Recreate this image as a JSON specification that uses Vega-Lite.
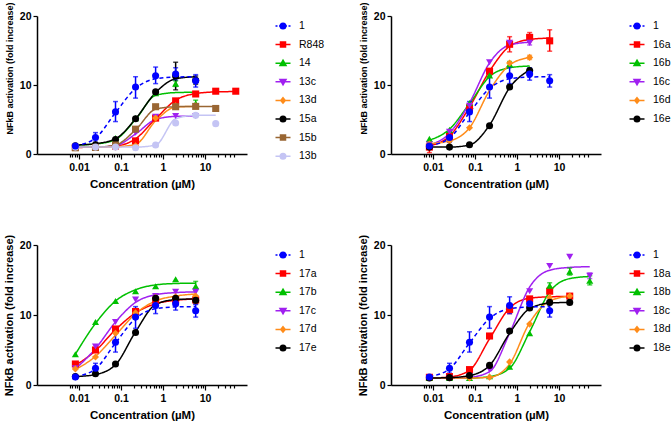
{
  "$schema": "https://vega.github.io/schema/vega-lite/v6.json",
  "padding": {"left": 3, "top": 0, "right": 0, "bottom": 0},
  "spacing": 42,
  "resolve": {"scale": {"color": "independent", "strokeDash": "independent", "shape": "independent", "fill": "independent", "stroke": "independent", "x": "independent", "y": "independent"}},
  "config": {
    "view": {"stroke": null},
    "axis": {"grid": false, "domainColor": "black", "domainWidth": 1.5, "tickColor": "black", "tickWidth": 1.2,
      "labelFont": "Liberation Sans", "labelFontWeight": "bold", "labelFontSize": 10.5, "labelColor": "black",
      "titleFont": "Liberation Sans", "titleFontWeight": "bold", "titleFontSize": 11.5, "titleColor": "black"},
    "legend": {"labelFont": "Liberation Sans", "labelFontSize": 10.5, "labelColor": "black", "symbolSize": 100,
      "symbolStrokeWidth": 1.5, "rowPadding": 6.6, "labelOffset": 10, "offset": 26, "padding": 4, "symbolOpacity": 1}
  },
  "datasets": {
    "p1": [
      {"s":"R848","x":0.0082,"y":0.95,"f":0.95},{"s":"R848","x":0.0247,"y":1.0,"f":1.0},{"s":"R848","x":0.074,"y":1.15,"f":1.15},{"s":"R848","x":0.222,"y":1.9,"f":2.2},{"s":"R848","x":0.667,"y":5.2,"f":5.1},{"s":"R848","x":2,"y":7.7,"f":7.8},{"s":"R848","x":6,"y":8.7,"f":8.75},{"s":"R848","x":18,"y":9.1,"f":9.0},{"s":"R848","x":54,"y":9.1,"f":9.05},
      {"s":"14","x":0.0082,"y":1.2,"f":1.3},{"s":"14","x":0.0247,"y":1.4,"f":1.45},{"s":"14","x":0.074,"y":2.3,"f":2.1},{"s":"14","x":0.222,"y":5.2,"f":5.0},{"s":"14","x":0.667,"y":8.8,"f":8.5},{"s":"14","x":2,"y":10.2,"f":8.9},{"s":"14","x":6,"y":7.3,"f":8.95},
      {"s":"13c","x":0.0082,"y":1.0,"f":1.0},{"s":"13c","x":0.0247,"y":1.05,"f":1.0},{"s":"13c","x":0.074,"y":1.2,"f":1.2},{"s":"13c","x":0.222,"y":3.1,"f":2.9},{"s":"13c","x":0.667,"y":5.4,"f":5.0},{"s":"13c","x":2,"y":5.5,"f":5.45},{"s":"13c","x":6,"y":5.5,"f":5.5},
      {"s":"13d","x":0.0082,"y":0.95,"f":1.0},{"s":"13d","x":0.0247,"y":0.95,"f":1.0},{"s":"13d","x":0.074,"y":1.0,"f":1.05},{"s":"13d","x":0.222,"y":1.2,"f":1.4},{"s":"13d","x":0.667,"y":5.2,"f":4.8},{"s":"13d","x":2,"y":7.0,"f":6.8},{"s":"13d","x":6,"y":7.0,"f":6.9},
      {"s":"15a","x":0.0082,"y":1.2,"f":1.3},{"s":"15a","x":0.0247,"y":1.35,"f":1.5},{"s":"15a","x":0.074,"y":2.1,"f":2.2},{"s":"15a","x":0.222,"y":5.1,"f":5.1},{"s":"15a","x":0.667,"y":9.0,"f":8.9},{"s":"15a","x":2,"y":11.3,"f":10.9},{"s":"15a","x":6,"y":10.7,"f":11.2},
      {"s":"15b","x":0.0082,"y":0.9,"f":1.0},{"s":"15b","x":0.0247,"y":0.95,"f":1.0},{"s":"15b","x":0.074,"y":1.3,"f":1.3},{"s":"15b","x":0.222,"y":3.6,"f":3.5},{"s":"15b","x":0.667,"y":6.85,"f":6.5},{"s":"15b","x":2,"y":6.85,"f":6.85},{"s":"15b","x":6,"y":6.9,"f":6.9},{"s":"15b","x":18,"y":6.6,"f":6.9},
      {"s":"13b","x":0.0082,"y":1.0,"f":1.0},{"s":"13b","x":0.0247,"y":1.0,"f":1.0},{"s":"13b","x":0.074,"y":1.0,"f":1.0},{"s":"13b","x":0.222,"y":0.9,"f":1.0},{"s":"13b","x":0.667,"y":1.3,"f":1.3},{"s":"13b","x":2,"y":4.5,"f":5.1},{"s":"13b","x":6,"y":5.6,"f":5.6},{"s":"13b","x":18,"y":4.4,"f":5.6},
      {"s":"1","x":0.0082,"y":1.15,"f":1.2},{"s":"1","x":0.0247,"y":2.4,"f":2.3},{"s":"1","x":0.074,"y":6.1,"f":6.0},{"s":"1","x":0.222,"y":9.7,"f":9.5},{"s":"1","x":0.667,"y":11.35,"f":10.9},{"s":"1","x":2,"y":11.6,"f":11.15},{"s":"1","x":6,"y":10.6,"f":11.2}
    ],
    "e1": [
      {"s":"14","x":2,"lo":9.8,"hi":10.6},{"s":"14","x":6,"lo":6.8,"hi":7.8},{"s":"15a","x":2,"lo":9.3,"hi":13.3},{"s":"15a","x":6,"lo":10.1,"hi":11.3},
      {"s":"1","x":0.0082,"lo":0.9,"hi":1.4},{"s":"1","x":0.0247,"lo":1.7,"hi":3.1},{"s":"1","x":0.074,"lo":4.7,"hi":7.6},{"s":"1","x":0.222,"lo":8.1,"hi":11.2},{"s":"1","x":0.667,"lo":10.2,"hi":12.6},{"s":"1","x":2,"lo":10.7,"hi":12.5},{"s":"1","x":6,"lo":9.7,"hi":11.5}
    ],
    "p2": [
      {"s":"16a","x":0.0082,"y":1.0,"f":1.2},{"s":"16a","x":0.0247,"y":2.6,"f":2.6},{"s":"16a","x":0.074,"y":6.7,"f":6.8},{"s":"16a","x":0.222,"y":12.0,"f":12.0},{"s":"16a","x":0.667,"y":15.9,"f":15.6},{"s":"16a","x":2,"y":16.9,"f":16.6},{"s":"16a","x":6,"y":16.4,"f":16.8},
      {"s":"16b","x":0.0082,"y":2.2,"f":2.0},{"s":"16b","x":0.0247,"y":3.5,"f":3.6},{"s":"16b","x":0.074,"y":7.4,"f":7.3},{"s":"16b","x":0.222,"y":11.4,"f":11.2},{"s":"16b","x":0.667,"y":13.0,"f":12.5},{"s":"16b","x":2,"y":12.3,"f":12.75},
      {"s":"16c","x":0.0082,"y":1.35,"f":1.3},{"s":"16c","x":0.0247,"y":3.2,"f":3.0},{"s":"16c","x":0.074,"y":7.0,"f":7.4},{"s":"16c","x":0.222,"y":13.3,"f":13.2},{"s":"16c","x":0.667,"y":16.1,"f":15.8},{"s":"16c","x":2,"y":16.1,"f":16.2},
      {"s":"16d","x":0.0082,"y":1.45,"f":1.5},{"s":"16d","x":0.0247,"y":1.9,"f":1.9},{"s":"16d","x":0.074,"y":3.8,"f":3.8},{"s":"16d","x":0.222,"y":9.6,"f":9.2},{"s":"16d","x":0.667,"y":13.2,"f":12.9},{"s":"16d","x":2,"y":14.0,"f":14.0},
      {"s":"16e","x":0.0082,"y":1.0,"f":1.0},{"s":"16e","x":0.0247,"y":1.0,"f":1.0},{"s":"16e","x":0.074,"y":1.35,"f":1.3},{"s":"16e","x":0.222,"y":4.1,"f":4.2},{"s":"16e","x":0.667,"y":9.7,"f":9.6},{"s":"16e","x":2,"y":12.1,"f":12.2},
      {"s":"1","x":0.0082,"y":1.15,"f":1.2},{"s":"1","x":0.0247,"y":2.4,"f":2.3},{"s":"1","x":0.074,"y":6.1,"f":6.0},{"s":"1","x":0.222,"y":9.7,"f":9.5},{"s":"1","x":0.667,"y":11.35,"f":10.9},{"s":"1","x":2,"y":11.6,"f":11.15},{"s":"1","x":6,"y":10.6,"f":11.2}
    ],
    "e2": [
      {"s":"16a","x":0.0082,"lo":0.2,"hi":1.8},{"s":"16a","x":0.667,"lo":14.8,"hi":17.0},{"s":"16a","x":2,"lo":16.3,"hi":17.6},{"s":"16a","x":6,"lo":14.9,"hi":18.0},
      {"s":"16b","x":0.667,"lo":12.6,"hi":13.4},{"s":"16c","x":2,"lo":15.8,"hi":16.5},{"s":"16d","x":2,"lo":13.7,"hi":14.3},
      {"s":"1","x":0.0082,"lo":0.9,"hi":1.4},{"s":"1","x":0.0247,"lo":1.7,"hi":3.1},{"s":"1","x":0.074,"lo":4.7,"hi":7.6},{"s":"1","x":0.222,"lo":8.1,"hi":11.2},{"s":"1","x":0.667,"lo":10.2,"hi":12.6},{"s":"1","x":2,"lo":10.7,"hi":12.5},{"s":"1","x":6,"lo":9.7,"hi":11.5}
    ],
    "p3": [
      {"s":"17a","x":0.0082,"y":3.0,"f":2.8},{"s":"17a","x":0.0247,"y":5.0,"f":4.9},{"s":"17a","x":0.074,"y":8.0,"f":7.9},{"s":"17a","x":0.222,"y":10.5,"f":10.3},{"s":"17a","x":0.667,"y":12.1,"f":11.6},{"s":"17a","x":2,"y":12.2,"f":12.1},{"s":"17a","x":6,"y":12.15,"f":12.3},
      {"s":"17b","x":0.0082,"y":4.4,"f":4.4},{"s":"17b","x":0.0247,"y":9.0,"f":8.8},{"s":"17b","x":0.074,"y":12.0,"f":12.0},{"s":"17b","x":0.222,"y":13.4,"f":13.6},{"s":"17b","x":0.667,"y":14.1,"f":14.3},{"s":"17b","x":2,"y":15.1,"f":14.5},{"s":"17b","x":6,"y":14.1,"f":14.55},
      {"s":"17c","x":0.0082,"y":2.4,"f":2.3},{"s":"17c","x":0.0247,"y":5.5,"f":5.2},{"s":"17c","x":0.074,"y":9.0,"f":9.0},{"s":"17c","x":0.222,"y":12.2,"f":11.8},{"s":"17c","x":0.667,"y":12.7,"f":12.9},{"s":"17c","x":2,"y":13.3,"f":13.2},{"s":"17c","x":6,"y":13.3,"f":13.3},
      {"s":"17d","x":0.0082,"y":2.3,"f":2.2},{"s":"17d","x":0.0247,"y":4.0,"f":4.1},{"s":"17d","x":0.074,"y":7.4,"f":7.1},{"s":"17d","x":0.222,"y":10.3,"f":10.2},{"s":"17d","x":0.667,"y":12.5,"f":12.0},{"s":"17d","x":2,"y":12.6,"f":12.7},{"s":"17d","x":6,"y":12.7,"f":13.0},
      {"s":"17e","x":0.0082,"y":1.2,"f":1.2},{"s":"17e","x":0.0247,"y":1.6,"f":1.5},{"s":"17e","x":0.074,"y":3.0,"f":2.9},{"s":"17e","x":0.222,"y":7.5,"f":7.6},{"s":"17e","x":0.667,"y":12.4,"f":11.5},{"s":"17e","x":2,"y":12.4,"f":12.2},{"s":"17e","x":6,"y":12.1,"f":12.3},
      {"s":"1","x":0.0082,"y":1.15,"f":1.2},{"s":"1","x":0.0247,"y":2.4,"f":2.3},{"s":"1","x":0.074,"y":6.1,"f":6.0},{"s":"1","x":0.222,"y":9.7,"f":9.5},{"s":"1","x":0.667,"y":11.35,"f":10.9},{"s":"1","x":2,"y":11.6,"f":11.15},{"s":"1","x":6,"y":10.6,"f":11.2}
    ],
    "e3": [
      {"s":"17b","x":6,"lo":13.5,"hi":14.8},{"s":"17e","x":6,"lo":11.6,"hi":12.6},
      {"s":"1","x":0.0082,"lo":0.9,"hi":1.4},{"s":"1","x":0.0247,"lo":1.7,"hi":3.1},{"s":"1","x":0.074,"lo":4.7,"hi":7.6},{"s":"1","x":0.222,"lo":8.1,"hi":11.2},{"s":"1","x":0.667,"lo":10.2,"hi":12.6},{"s":"1","x":2,"lo":10.7,"hi":12.5},{"s":"1","x":6,"lo":9.7,"hi":11.5}
    ],
    "p4": [
      {"s":"18a","x":0.0082,"y":1.1,"f":1.0},{"s":"18a","x":0.0247,"y":1.2,"f":1.15},{"s":"18a","x":0.074,"y":2.2,"f":2.1},{"s":"18a","x":0.222,"y":7.0,"f":6.6},{"s":"18a","x":0.667,"y":10.8,"f":11.0},{"s":"18a","x":2,"y":12.3,"f":12.4},{"s":"18a","x":6,"y":13.4,"f":12.6},{"s":"18a","x":18,"y":12.7,"f":12.65},
      {"s":"18b","x":0.0082,"y":1.0,"f":1.0},{"s":"18b","x":0.0247,"y":1.0,"f":1.0},{"s":"18b","x":0.074,"y":1.0,"f":1.0},{"s":"18b","x":0.222,"y":1.25,"f":1.2},{"s":"18b","x":0.667,"y":2.6,"f":2.4},{"s":"18b","x":2,"y":7.4,"f":7.6},{"s":"18b","x":6,"y":14.2,"f":13.3},{"s":"18b","x":18,"y":16.2,"f":15.2},{"s":"18b","x":54,"y":14.9,"f":15.5},
      {"s":"18c","x":0.0082,"y":1.0,"f":1.0},{"s":"18c","x":0.0247,"y":1.0,"f":1.0},{"s":"18c","x":0.074,"y":1.2,"f":1.1},{"s":"18c","x":0.222,"y":2.2,"f":1.9},{"s":"18c","x":0.667,"y":7.6,"f":7.4},{"s":"18c","x":2,"y":13.4,"f":14.0},{"s":"18c","x":6,"y":17.0,"f":16.4},{"s":"18c","x":18,"y":18.3,"f":16.8},{"s":"18c","x":54,"y":15.6,"f":16.9},
      {"s":"18d","x":0.0082,"y":1.0,"f":1.0},{"s":"18d","x":0.0247,"y":1.0,"f":1.0},{"s":"18d","x":0.074,"y":1.0,"f":1.0},{"s":"18d","x":0.222,"y":1.1,"f":1.1},{"s":"18d","x":0.667,"y":3.3,"f":3.0},{"s":"18d","x":2,"y":8.7,"f":8.9},{"s":"18d","x":6,"y":12.5,"f":12.0},{"s":"18d","x":18,"y":12.7,"f":12.7},
      {"s":"18e","x":0.0082,"y":1.0,"f":1.0},{"s":"18e","x":0.0247,"y":1.05,"f":1.05},{"s":"18e","x":0.074,"y":1.35,"f":1.35},{"s":"18e","x":0.222,"y":2.8,"f":2.8},{"s":"18e","x":0.667,"y":7.7,"f":7.4},{"s":"18e","x":2,"y":11.0,"f":10.9},{"s":"18e","x":6,"y":11.8,"f":11.7},{"s":"18e","x":18,"y":11.8,"f":11.8},
      {"s":"1","x":0.0082,"y":1.15,"f":1.2},{"s":"1","x":0.0247,"y":2.4,"f":2.3},{"s":"1","x":0.074,"y":6.1,"f":6.0},{"s":"1","x":0.222,"y":9.7,"f":9.5},{"s":"1","x":0.667,"y":11.35,"f":10.9},{"s":"1","x":2,"y":11.6,"f":11.15},{"s":"1","x":6,"y":10.6,"f":11.2}
    ],
    "e4": [
      {"s":"18a","x":0.667,"lo":10.2,"hi":11.4},{"s":"18b","x":6,"lo":13.7,"hi":14.6},{"s":"18b","x":18,"lo":15.7,"hi":16.7},{"s":"18b","x":54,"lo":14.3,"hi":15.6},{"s":"18c","x":54,"lo":15.2,"hi":16.0},
      {"s":"1","x":0.0082,"lo":0.9,"hi":1.4},{"s":"1","x":0.0247,"lo":1.7,"hi":3.1},{"s":"1","x":0.074,"lo":4.7,"hi":7.6},{"s":"1","x":0.222,"lo":8.1,"hi":11.2},{"s":"1","x":0.667,"lo":10.2,"hi":12.6},{"s":"1","x":2,"lo":10.7,"hi":12.5},{"s":"1","x":6,"lo":9.7,"hi":11.5}
    ]
  },
  "vconcat": [
    {"hconcat": [
      {"width": 210, "height": 138,
       "resolve": {"scale": {"shape": "independent", "fill": "independent", "stroke": "independent"}},
       "layer": [
        {"data": {"name": "p1"}, "mark": {"type": "line", "strokeWidth": 1.5, "interpolate": "monotone"},
         "encoding": {
          "x": {"field": "x", "type": "quantitative", "scale": {"type": "log", "domain": [0.0055, 60]},
                "axis": {"title": "Concentration (µM)", "values": [0.006,0.007,0.008,0.009,0.01,0.02,0.03,0.04,0.05,0.06,0.07,0.08,0.09,0.1,0.2,0.3,0.4,0.5,0.6,0.7,0.8,0.9,1,2,3,4,5,6,7,8,9,10,20,30,40,50],
                         "labelExpr": "(datum.value==0.01||datum.value==0.1||datum.value==1||datum.value==10) ? datum.label : ''", "format": "~g",
                         "tickSize": {"condition": {"test": "datum.value==0.01||datum.value==0.1||datum.value==1||datum.value==10", "value": 5}, "value": 3}, "labelPadding": 3, "titlePadding": 6}},
          "y": {"field": "f", "type": "quantitative", "scale": {"domain": [0, 20]}, "title": "NFkB activation  (fold increase)",
                "axis": {"values": [0,5,10,15,20], "tickSize": 4, "titleFontSize": 9, "titlePadding": 5, "titleY": 52}},
          "color": {"field": "s", "type": "nominal", "legend": null, "scale": {"domain": ["1","R848","14","13c","13d","15a","15b","13b"], "range": ["#0000ff","#ff0000","#00c000","#a020f0","#ff8c1a","#000000","#996633","#c4c4f4"]}},
          "strokeDash": {"field": "s", "type": "nominal", "legend": null, "scale": {"domain": ["1","R848","14","13c","13d","15a","15b","13b"], "range": [[4,3],[1,0],[1,0],[1,0],[1,0],[1,0],[1,0],[1,0]]}}
         }},
        {"data": {"name": "e1"}, "mark": {"type": "errorbar", "ticks": true, "thickness": 1.5},
         "encoding": {"x": {"field": "x", "type": "quantitative"}, "y": {"field": "lo", "type": "quantitative", "title": "NFkB activation  (fold increase)"}, "y2": {"field": "hi"},
          "color": {"field": "s", "type": "nominal", "legend": null}}},
        {"data": {"name": "p1"}, "mark": {"type": "point", "filled": true, "size": 50, "opacity": 1},
         "encoding": {"x": {"field": "x", "type": "quantitative"}, "y": {"field": "y", "type": "quantitative", "title": "NFkB activation  (fold increase)"},
          "color": {"field": "s", "type": "nominal", "legend": null},
          "shape": {"field": "s", "type": "nominal", "legend": null, "scale": {"domain": ["1","R848","14","13c","13d","15a","15b","13b"], "range": ["circle","square","triangle-up","triangle-down","diamond","circle","square","circle"]}}}},
        {"data": {"name": "p1"}, "mark": {"type": "point", "filled": true, "size": 100, "opacity": 0},
         "encoding": {"x": {"field": "x", "type": "quantitative"}, "y": {"field": "y", "type": "quantitative", "title": "NFkB activation  (fold increase)"},
          "fill": {"field": "s", "type": "nominal", "legend": {"title": null}, "scale": {"domain": ["1","R848","14","13c","13d","15a","15b","13b"], "range": ["#0000ff","#ff0000","#00c000","#a020f0","#ff8c1a","#000000","#996633","#c4c4f4"]}},
          "stroke": {"field": "s", "type": "nominal", "legend": {"title": null}, "scale": {"domain": ["1","R848","14","13c","13d","15a","15b","13b"], "range": ["#0000ff","#ff0000","#00c000","#a020f0","#ff8c1a","#000000","#996633","#c4c4f4"]}},
          "shape": {"field": "s", "type": "nominal", "legend": {"title": null}, "scale": {"domain": ["1","R848","14","13c","13d","15a","15b","13b"], "range": [
            "M-1.5,0H-1.1M-0.8,0H-0.55M0.55,0H0.8M1.1,0H1.5M0.55,0A0.55,0.55,0,1,1,-0.55,0A0.55,0.55,0,1,1,0.55,0Z",
            "M-1.5,0H1.5M-0.5,-0.5H0.5V0.5H-0.5Z",
            "M-1.5,0H1.5M0,-0.6L0.6,0.45H-0.6Z",
            "M-1.5,0H1.5M0,0.6L0.6,-0.45H-0.6Z",
            "M-1.5,0H1.5M0,-0.55L0.45,0L0,0.55L-0.45,0Z",
            "M-1.5,0H1.5M0.55,0A0.55,0.55,0,1,1,-0.55,0A0.55,0.55,0,1,1,0.55,0Z",
            "M-1.5,0H1.5M-0.5,-0.5H0.5V0.5H-0.5Z",
            "M-1.5,0H1.5M0.55,0A0.55,0.55,0,1,1,-0.55,0A0.55,0.55,0,1,1,0.55,0Z"]}}}}
       ]},
      {"width": 210, "height": 138,
       "resolve": {"scale": {"shape": "independent", "fill": "independent", "stroke": "independent"}},
       "layer": [
        {"data": {"name": "p2"}, "mark": {"type": "line", "strokeWidth": 1.5, "interpolate": "monotone"},
         "encoding": {
          "x": {"field": "x", "type": "quantitative", "scale": {"type": "log", "domain": [0.0055, 60]},
                "axis": {"title": "Concentration (µM)", "values": [0.006,0.007,0.008,0.009,0.01,0.02,0.03,0.04,0.05,0.06,0.07,0.08,0.09,0.1,0.2,0.3,0.4,0.5,0.6,0.7,0.8,0.9,1,2,3,4,5,6,7,8,9,10,20,30,40,50],
                         "labelExpr": "(datum.value==0.01||datum.value==0.1||datum.value==1||datum.value==10) ? datum.label : ''", "format": "~g",
                         "tickSize": {"condition": {"test": "datum.value==0.01||datum.value==0.1||datum.value==1||datum.value==10", "value": 5}, "value": 3}, "labelPadding": 3, "titlePadding": 6}},
          "y": {"field": "f", "type": "quantitative", "scale": {"domain": [0, 20]}, "title": "NFkB activation  (fold increase)",
                "axis": {"values": [0,5,10,15,20], "tickSize": 4, "titleFontSize": 9, "titlePadding": 5, "titleY": 52}},
          "color": {"field": "s", "type": "nominal", "legend": null, "scale": {"domain": ["1","16a","16b","16c","16d","16e"], "range": ["#0000ff","#ff0000","#00c000","#a020f0","#ff8c1a","#000000"]}},
          "strokeDash": {"field": "s", "type": "nominal", "legend": null, "scale": {"domain": ["1","16a","16b","16c","16d","16e"], "range": [[4,3],[1,0],[1,0],[1,0],[1,0],[1,0]]}}
         }},
        {"data": {"name": "e2"}, "mark": {"type": "errorbar", "ticks": true, "thickness": 1.5},
         "encoding": {"x": {"field": "x", "type": "quantitative"}, "y": {"field": "lo", "type": "quantitative", "title": "NFkB activation  (fold increase)"}, "y2": {"field": "hi"},
          "color": {"field": "s", "type": "nominal", "legend": null}}},
        {"data": {"name": "p2"}, "mark": {"type": "point", "filled": true, "size": 50, "opacity": 1},
         "encoding": {"x": {"field": "x", "type": "quantitative"}, "y": {"field": "y", "type": "quantitative", "title": "NFkB activation  (fold increase)"},
          "color": {"field": "s", "type": "nominal", "legend": null},
          "shape": {"field": "s", "type": "nominal", "legend": null, "scale": {"domain": ["1","16a","16b","16c","16d","16e"], "range": ["circle","square","triangle-up","triangle-down","diamond","circle"]}}}},
        {"data": {"name": "p2"}, "mark": {"type": "point", "filled": true, "size": 100, "opacity": 0},
         "encoding": {"x": {"field": "x", "type": "quantitative"}, "y": {"field": "y", "type": "quantitative", "title": "NFkB activation  (fold increase)"},
          "fill": {"field": "s", "type": "nominal", "legend": {"title": null}, "scale": {"domain": ["1","16a","16b","16c","16d","16e"], "range": ["#0000ff","#ff0000","#00c000","#a020f0","#ff8c1a","#000000"]}},
          "stroke": {"field": "s", "type": "nominal", "legend": {"title": null}, "scale": {"domain": ["1","16a","16b","16c","16d","16e"], "range": ["#0000ff","#ff0000","#00c000","#a020f0","#ff8c1a","#000000"]}},
          "shape": {"field": "s", "type": "nominal", "legend": {"title": null}, "scale": {"domain": ["1","16a","16b","16c","16d","16e"], "range": [
            "M-1.5,0H-1.1M-0.8,0H-0.55M0.55,0H0.8M1.1,0H1.5M0.55,0A0.55,0.55,0,1,1,-0.55,0A0.55,0.55,0,1,1,0.55,0Z",
            "M-1.5,0H1.5M-0.5,-0.5H0.5V0.5H-0.5Z",
            "M-1.5,0H1.5M0,-0.6L0.6,0.45H-0.6Z",
            "M-1.5,0H1.5M0,0.6L0.6,-0.45H-0.6Z",
            "M-1.5,0H1.5M0,-0.55L0.45,0L0,0.55L-0.45,0Z",
            "M-1.5,0H1.5M0.55,0A0.55,0.55,0,1,1,-0.55,0A0.55,0.55,0,1,1,0.55,0Z"]}}}}
       ]}
    ], "spacing": 30,
    "resolve": {"scale": {"color": "independent", "strokeDash": "independent", "shape": "independent", "fill": "independent", "stroke": "independent", "x": "independent", "y": "independent"}}},
    {"hconcat": [
      {"width": 210, "height": 140,
       "resolve": {"scale": {"shape": "independent", "fill": "independent", "stroke": "independent"}},
       "layer": [
        {"data": {"name": "p3"}, "mark": {"type": "line", "strokeWidth": 1.5, "interpolate": "monotone"},
         "encoding": {
          "x": {"field": "x", "type": "quantitative", "scale": {"type": "log", "domain": [0.0055, 60]},
                "axis": {"title": "Concentration (µM)", "values": [0.006,0.007,0.008,0.009,0.01,0.02,0.03,0.04,0.05,0.06,0.07,0.08,0.09,0.1,0.2,0.3,0.4,0.5,0.6,0.7,0.8,0.9,1,2,3,4,5,6,7,8,9,10,20,30,40,50],
                         "labelExpr": "(datum.value==0.01||datum.value==0.1||datum.value==1||datum.value==10) ? datum.label : ''", "format": "~g",
                         "tickSize": {"condition": {"test": "datum.value==0.01||datum.value==0.1||datum.value==1||datum.value==10", "value": 5}, "value": 3}, "labelPadding": 3, "titlePadding": 6}},
          "y": {"field": "f", "type": "quantitative", "scale": {"domain": [0, 20]}, "title": "NFkB activation  (fold increase)",
                "axis": {"values": [0,5,10,15,20], "tickSize": 4, "titleFontSize": 11, "titlePadding": 5}},
          "color": {"field": "s", "type": "nominal", "legend": null, "scale": {"domain": ["1","17a","17b","17c","17d","17e"], "range": ["#0000ff","#ff0000","#00c000","#a020f0","#ff8c1a","#000000"]}},
          "strokeDash": {"field": "s", "type": "nominal", "legend": null, "scale": {"domain": ["1","17a","17b","17c","17d","17e"], "range": [[4,3],[1,0],[1,0],[1,0],[1,0],[1,0]]}}
         }},
        {"data": {"name": "e3"}, "mark": {"type": "errorbar", "ticks": true, "thickness": 1.5},
         "encoding": {"x": {"field": "x", "type": "quantitative"}, "y": {"field": "lo", "type": "quantitative", "title": "NFkB activation  (fold increase)"}, "y2": {"field": "hi"},
          "color": {"field": "s", "type": "nominal", "legend": null}}},
        {"data": {"name": "p3"}, "mark": {"type": "point", "filled": true, "size": 50, "opacity": 1},
         "encoding": {"x": {"field": "x", "type": "quantitative"}, "y": {"field": "y", "type": "quantitative", "title": "NFkB activation  (fold increase)"},
          "color": {"field": "s", "type": "nominal", "legend": null},
          "shape": {"field": "s", "type": "nominal", "legend": null, "scale": {"domain": ["1","17a","17b","17c","17d","17e"], "range": ["circle","square","triangle-up","triangle-down","diamond","circle"]}}}},
        {"data": {"name": "p3"}, "mark": {"type": "point", "filled": true, "size": 100, "opacity": 0},
         "encoding": {"x": {"field": "x", "type": "quantitative"}, "y": {"field": "y", "type": "quantitative", "title": "NFkB activation  (fold increase)"},
          "fill": {"field": "s", "type": "nominal", "legend": {"title": null}, "scale": {"domain": ["1","17a","17b","17c","17d","17e"], "range": ["#0000ff","#ff0000","#00c000","#a020f0","#ff8c1a","#000000"]}},
          "stroke": {"field": "s", "type": "nominal", "legend": {"title": null}, "scale": {"domain": ["1","17a","17b","17c","17d","17e"], "range": ["#0000ff","#ff0000","#00c000","#a020f0","#ff8c1a","#000000"]}},
          "shape": {"field": "s", "type": "nominal", "legend": {"title": null}, "scale": {"domain": ["1","17a","17b","17c","17d","17e"], "range": [
            "M-1.5,0H-1.1M-0.8,0H-0.55M0.55,0H0.8M1.1,0H1.5M0.55,0A0.55,0.55,0,1,1,-0.55,0A0.55,0.55,0,1,1,0.55,0Z",
            "M-1.5,0H1.5M-0.5,-0.5H0.5V0.5H-0.5Z",
            "M-1.5,0H1.5M0,-0.6L0.6,0.45H-0.6Z",
            "M-1.5,0H1.5M0,0.6L0.6,-0.45H-0.6Z",
            "M-1.5,0H1.5M0,-0.55L0.45,0L0,0.55L-0.45,0Z",
            "M-1.5,0H1.5M0.55,0A0.55,0.55,0,1,1,-0.55,0A0.55,0.55,0,1,1,0.55,0Z"]}}}}
       ]},
      {"width": 210, "height": 140,
       "resolve": {"scale": {"shape": "independent", "fill": "independent", "stroke": "independent"}},
       "layer": [
        {"data": {"name": "p4"}, "mark": {"type": "line", "strokeWidth": 1.5, "interpolate": "monotone"},
         "encoding": {
          "x": {"field": "x", "type": "quantitative", "scale": {"type": "log", "domain": [0.0055, 60]},
                "axis": {"title": "Concentration (µM)", "values": [0.006,0.007,0.008,0.009,0.01,0.02,0.03,0.04,0.05,0.06,0.07,0.08,0.09,0.1,0.2,0.3,0.4,0.5,0.6,0.7,0.8,0.9,1,2,3,4,5,6,7,8,9,10,20,30,40,50],
                         "labelExpr": "(datum.value==0.01||datum.value==0.1||datum.value==1||datum.value==10) ? datum.label : ''", "format": "~g",
                         "tickSize": {"condition": {"test": "datum.value==0.01||datum.value==0.1||datum.value==1||datum.value==10", "value": 5}, "value": 3}, "labelPadding": 3, "titlePadding": 6}},
          "y": {"field": "f", "type": "quantitative", "scale": {"domain": [0, 20]}, "title": "NFkB activation  (fold increase)",
                "axis": {"values": [0,5,10,15,20], "tickSize": 4, "titleFontSize": 11, "titlePadding": 5}},
          "color": {"field": "s", "type": "nominal", "legend": null, "scale": {"domain": ["1","18a","18b","18c","18d","18e"], "range": ["#0000ff","#ff0000","#00c000","#a020f0","#ff8c1a","#000000"]}},
          "strokeDash": {"field": "s", "type": "nominal", "legend": null, "scale": {"domain": ["1","18a","18b","18c","18d","18e"], "range": [[4,3],[1,0],[1,0],[1,0],[1,0],[1,0]]}}
         }},
        {"data": {"name": "e4"}, "mark": {"type": "errorbar", "ticks": true, "thickness": 1.5},
         "encoding": {"x": {"field": "x", "type": "quantitative"}, "y": {"field": "lo", "type": "quantitative", "title": "NFkB activation  (fold increase)"}, "y2": {"field": "hi"},
          "color": {"field": "s", "type": "nominal", "legend": null}}},
        {"data": {"name": "p4"}, "mark": {"type": "point", "filled": true, "size": 50, "opacity": 1},
         "encoding": {"x": {"field": "x", "type": "quantitative"}, "y": {"field": "y", "type": "quantitative", "title": "NFkB activation  (fold increase)"},
          "color": {"field": "s", "type": "nominal", "legend": null},
          "shape": {"field": "s", "type": "nominal", "legend": null, "scale": {"domain": ["1","18a","18b","18c","18d","18e"], "range": ["circle","square","triangle-up","triangle-down","diamond","circle"]}}}},
        {"data": {"name": "p4"}, "mark": {"type": "point", "filled": true, "size": 100, "opacity": 0},
         "encoding": {"x": {"field": "x", "type": "quantitative"}, "y": {"field": "y", "type": "quantitative", "title": "NFkB activation  (fold increase)"},
          "fill": {"field": "s", "type": "nominal", "legend": {"title": null}, "scale": {"domain": ["1","18a","18b","18c","18d","18e"], "range": ["#0000ff","#ff0000","#00c000","#a020f0","#ff8c1a","#000000"]}},
          "stroke": {"field": "s", "type": "nominal", "legend": {"title": null}, "scale": {"domain": ["1","18a","18b","18c","18d","18e"], "range": ["#0000ff","#ff0000","#00c000","#a020f0","#ff8c1a","#000000"]}},
          "shape": {"field": "s", "type": "nominal", "legend": {"title": null}, "scale": {"domain": ["1","18a","18b","18c","18d","18e"], "range": [
            "M-1.5,0H-1.1M-0.8,0H-0.55M0.55,0H0.8M1.1,0H1.5M0.55,0A0.55,0.55,0,1,1,-0.55,0A0.55,0.55,0,1,1,0.55,0Z",
            "M-1.5,0H1.5M-0.5,-0.5H0.5V0.5H-0.5Z",
            "M-1.5,0H1.5M0,-0.6L0.6,0.45H-0.6Z",
            "M-1.5,0H1.5M0,0.6L0.6,-0.45H-0.6Z",
            "M-1.5,0H1.5M0,-0.55L0.45,0L0,0.55L-0.45,0Z",
            "M-1.5,0H1.5M0.55,0A0.55,0.55,0,1,1,-0.55,0A0.55,0.55,0,1,1,0.55,0Z"]}}}}
       ]}
    ], "spacing": 36,
    "resolve": {"scale": {"color": "independent", "strokeDash": "independent", "shape": "independent", "fill": "independent", "stroke": "independent", "x": "independent", "y": "independent"}}}
  ]
}
